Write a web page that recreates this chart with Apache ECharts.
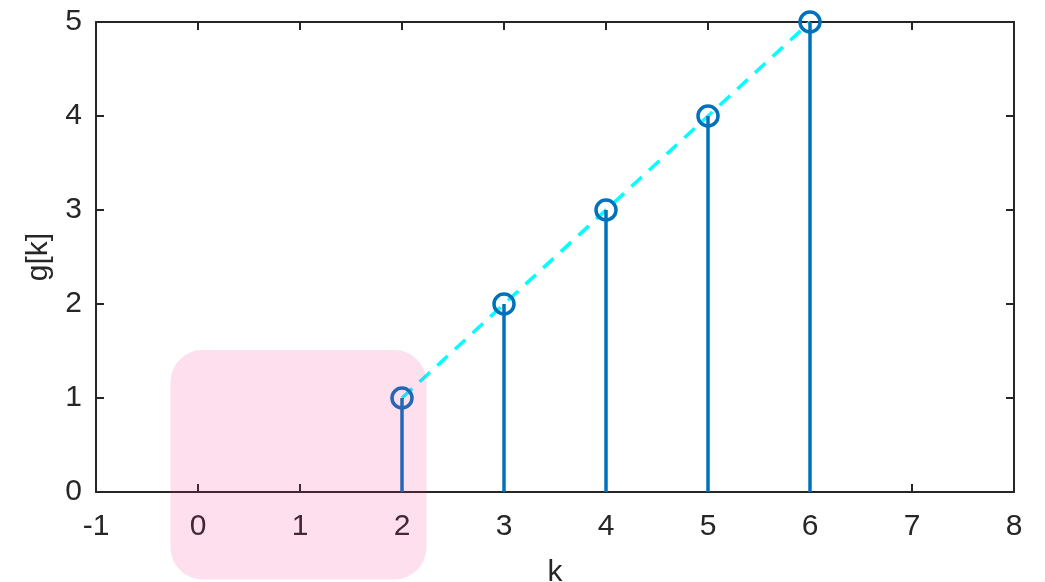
<!DOCTYPE html>
<html>
<head>
<meta charset="utf-8">
<script src="https://cdn.jsdelivr.net/npm/echarts@6/dist/echarts.min.js"></script>
<style>
  html, body { margin: 0; padding: 0; background: #fff; }
  #chart { width: 1045px; height: 582px; }
</style>
</head>
<body>
<div id="chart"></div>
<script>
// stem data g[k]
const kValues = [2, 3, 4, 5, 6];
const gValues = [1, 2, 3, 4, 5];
// highlighted region (data coords)
const boxK = [-0.27, 2.24];
const boxG = [-0.93, 1.51];

const axisColor = '#262626';
const stemColor = '#0072bd';
const font = 'Helvetica, "Liberation Sans", Arial, sans-serif';

const points = kValues.map((k, i) => [k, gValues[i]]);

const chart = echarts.init(document.getElementById('chart'));

const tickLabel = { color: axisColor, fontSize: 30, fontFamily: font };
const line = { onZero: false, lineStyle: { color: axisColor, width: 2 } };
const tick = { show: true, inside: true, length: 8, lineStyle: { color: axisColor, width: 2 } };

const option = {
  animation: false,
  grid: { left: 96, right: 31, top: 22, bottom: 90, outerBoundsMode: 'none' },
  xAxis: [
    {
      type: 'value', min: -1, max: 8, interval: 1,
      name: 'k', nameLocation: 'middle', nameGap: 66,
      nameTextStyle: { color: axisColor, fontSize: 30, fontFamily: font },
      axisLine: line,
      axisTick: tick,
      axisLabel: Object.assign({ margin: 20 }, tickLabel),
      splitLine: { show: false },
    },
    {
      type: 'value', min: -1, max: 8, interval: 1, position: 'top',
      axisLine: line,
      axisTick: tick,
      axisLabel: { show: false },
      splitLine: { show: false },
    },
  ],
  yAxis: [
    {
      type: 'value', min: 0, max: 5, interval: 1,
      name: 'g[k]', nameLocation: 'middle', nameGap: 42,
      nameTextStyle: { color: axisColor, fontSize: 30, fontFamily: font },
      axisLine: Object.assign({ show: true }, line),
      axisTick: tick,
      axisLabel: Object.assign({ margin: 14 }, tickLabel),
      splitLine: { show: false },
    },
    {
      type: 'value', min: 0, max: 5, interval: 1, position: 'right',
      axisLine: Object.assign({ show: true }, line),
      axisTick: tick,
      axisLabel: { show: false },
      splitLine: { show: false },
    },
  ],
  series: [
    {
      name: 'trend',
      type: 'line',
      data: points,
      symbol: 'none',
      z: 2,
      lineStyle: { color: '#00ffff', width: 3.5, type: [14, 10] },
    },
    {
      name: 'stems',
      type: 'bar',
      data: points,
      barWidth: 3.5,
      z: 3,
      itemStyle: { color: stemColor },
    },
    {
      name: 'markers',
      type: 'scatter',
      data: points,
      symbol: 'circle',
      symbolSize: 20,
      z: 4,
      itemStyle: { color: 'rgba(0,0,0,0)', borderColor: stemColor, borderWidth: 3.5, opacity: 1 },
    },
  ],
};

chart.setOption(option);

// pink rounded highlight drawn over the axes
const p0 = chart.convertToPixel({ gridIndex: 0 }, [boxK[0], boxG[1]]);
const p1 = chart.convertToPixel({ gridIndex: 0 }, [boxK[1], boxG[0]]);
chart.setOption({
  graphic: [
    {
      type: 'rect',
      z: 100,
      shape: { x: p0[0], y: p0[1], width: p1[0] - p0[0], height: p1[1] - p0[1], r: 32 },
      style: { fill: 'rgba(245, 40, 140, 0.15)' },
    },
  ],
});
</script>
</body>
</html>
